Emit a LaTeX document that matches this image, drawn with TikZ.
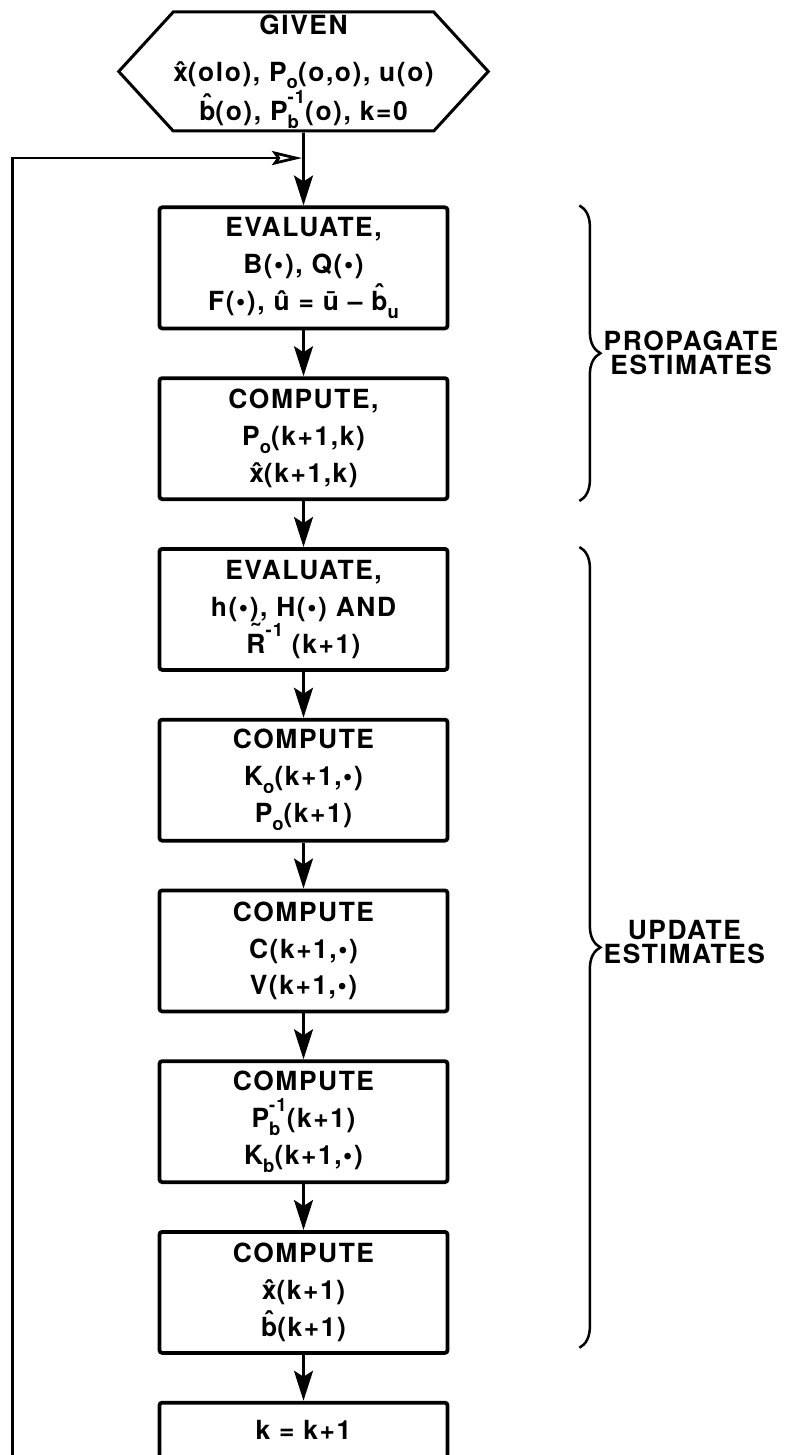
\documentclass[tikz,border=0pt]{standalone}
\usepackage{fontspec}
\setmainfont{TeX Gyre Heros}[LetterSpace=6]
\usetikzlibrary{positioning, calc, arrows.meta, shapes.symbols, decorations.pathreplacing}
\newcommand{\lowidx}[1]{\raisebox{-0.55ex}{\fontsize{10.5}{10.5}\selectfont #1}}
\newcommand{\highidx}[1]{\raisebox{1.15ex}{\fontsize{10.5}{10.5}\selectfont #1}}
\newcommand{\lowhigh}[2]{\rlap{\lowidx{#1}}\highidx{#2}}
\newcommand{\hatof}[2][0ex]{\ooalign{#2\cr\hidewidth\raisebox{#1}{\char"02C6}\hidewidth\cr}}
\newcommand{\tildeof}[1]{\ooalign{#1\cr\hidewidth\raisebox{0.75ex}{\char"02DC}\hidewidth\cr}}

\begin{document}
\begin{tikzpicture}[
							start/.style = {
								draw,
								signal,
								signal to = west and east,
								signal pointer angle = 95,
								line width = 0.06cm,
								minimum width = 7.3cm,
								minimum height = 2.38cm,
								inner sep = 0pt,
								align = center,
								font = \fontsize{15}{21}\selectfont\bfseries,
							},
							process/.style = {
								draw,
								rectangle,
								rounded corners = 1.5pt,
								line width = 0.075cm,
								minimum width = 5.76cm,
								minimum height = 2.42cm,
								align = center,
								font = \fontsize{15}{21}\selectfont\bfseries,
							},
							phase/.style = {
								anchor = west,
								inner sep = 0pt,
								align = center,
								font = \fontsize{15}{13.5}\selectfont\bfseries,
							},
							flow/.style = {
								line width = 0.055cm,
								-{Stealth[length = 0.6cm, width = 0.38cm, inset = 0.12cm]},
							},
							loopback/.style = {
								line width = 0.055cm,
								shorten > = 0.03cm,
								-{Stealth[open, length = 0.6cm, width = 0.28cm, inset = 0.1cm]},
							},
							grouping/.style = {
								line width = 0.05cm,
								decorate,
								decoration = {brace, amplitude = 0.42cm},
							}
						]
					\useasboundingbox (0, 0) rectangle (15.7, -29.1);

					\node [start] (given) at (6.07, -1.43) {GIVEN\\[0.2cm] \hatof{x}(olo), P\lowidx{o}(o,o), u(o)\\ \hatof[0.45ex]{b}(o), P\lowhigh{b}{-1}(o), k=0};

					\node [process, below = 1.46cm of given] (evalBQF) {EVALUATE,\\ B(\textbullet), Q(\textbullet)\\ F(\textbullet), \hatof{u} = \={u} -- \hatof[0.45ex]{b}\lowidx{u}};
					\node [process, below = 0.92cm of evalBQF] (predict) {COMPUTE,\\ P\lowidx{o}(k+1,k)\\ \hatof{x}(k+1,k)};
					\node [process, below = 0.92cm of predict] (evalHR) {EVALUATE,\\ h(\textbullet), H(\textbullet) AND\\ \tildeof{R}\highidx{-1} (k+1)};
					\node [process, below = 0.92cm of evalHR] (gainPo) {COMPUTE\\ K\lowidx{o}(k+1,\textbullet)\\ P\lowidx{o}(k+1)};
					\node [process, below = 0.92cm of gainPo] (corrCV) {COMPUTE\\ C(k+1,\textbullet)\\ V(k+1,\textbullet)};
					\node [process, below = 0.92cm of corrCV] (gainPb) {COMPUTE\\ P\lowhigh{b}{-1}(k+1)\\ K\lowidx{b}(k+1,\textbullet)};
					\node [process, below = 0.92cm of gainPb] (updateXB) {COMPUTE\\ \hatof{x}(k+1)\\ \hatof[0.45ex]{b}(k+1)};
					\node [process, minimum height = 1.1cm, below = 0.92cm of updateXB] (nextK) {k = k+1};

					\coordinate (join) at ($(given.south)!0.35!(evalBQF.north)$);

					\draw [flow] (given) to (evalBQF);
					\draw [flow] (evalBQF) to (predict);
					\draw [flow] (predict) to (evalHR);
					\draw [flow] (evalHR) to (gainPo);
					\draw [flow] (gainPo) to (corrCV);
					\draw [flow] (corrCV) to (gainPb);
					\draw [flow] (gainPb) to (updateXB);
					\draw [flow] (updateXB) to (nextK);
					\draw [loopback] (nextK.south) -- ++(0, -0.42) -| ([xshift = -5.82cm]join) -- (join);

					\draw [grouping] ([xshift = 2.6cm]evalBQF.north east) -- ([xshift = 2.6cm]predict.south east);
					\draw [grouping] ([xshift = 2.6cm]evalHR.north east) -- ([xshift = 2.6cm, yshift = 0.14cm]updateXB.south east);

					\node [phase] (propagateLbl) at ($([xshift = 3.08cm]evalBQF.north east)!0.5!([xshift = 3.08cm]predict.south east)$) {PROPAGATE\\ESTIMATES};
					\node [phase, yshift = 0.1cm] (updateLbl) at ($([xshift = 3.08cm]evalHR.north east)!0.5!([xshift = 3.08cm, yshift = 0.14cm]updateXB.south east)$) {UPDATE\\ESTIMATES};
				\end{tikzpicture}
\end{document}
